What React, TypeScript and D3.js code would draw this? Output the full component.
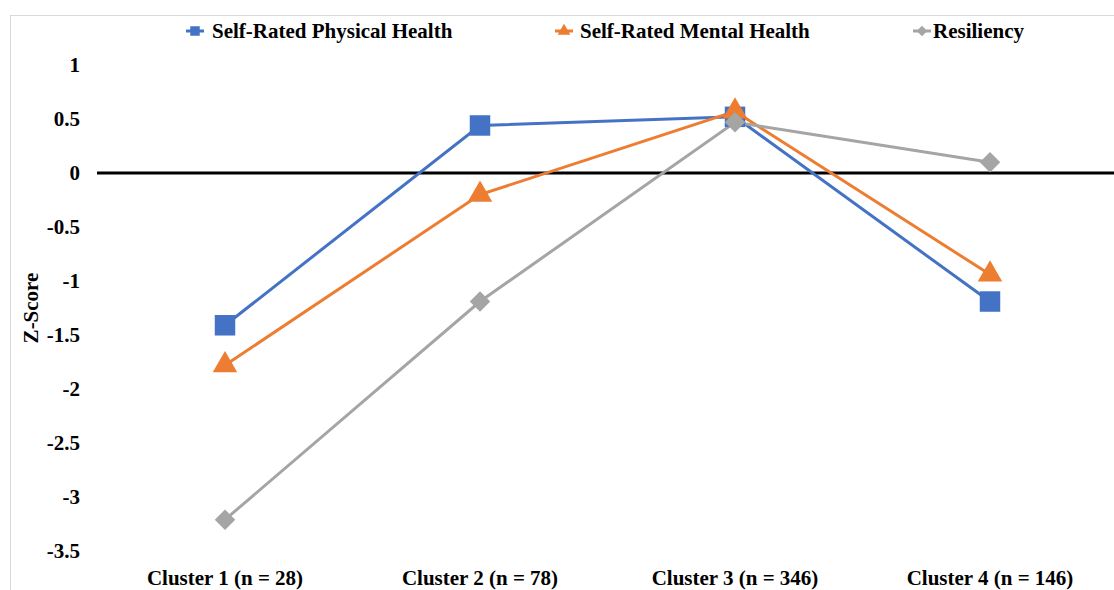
import React, { useEffect, useRef } from 'react';
import * as d3 from 'd3';

const categories = ['Cluster 1 (n = 28)', 'Cluster 2 (n = 78)', 'Cluster 3 (n = 346)', 'Cluster 4 (n = 146)'];
const physical = [-1.41, 0.44, 0.52, -1.19];
const mental = [-1.78, -0.2, 0.57, -0.94];
const resiliency = [-3.21, -1.19, 0.47, 0.1];
const yTicks = [1, 0.5, 0, -0.5, -1, -1.5, -2, -2.5, -3, -3.5];

const seriesList = [
  { name: 'Self-Rated Physical Health', values: physical, color: '#4472C4', shape: 'square', legendX: 186, textX: 212 },
  { name: 'Self-Rated Mental Health', values: mental, color: '#ED7D31', shape: 'triangle', legendX: 555, textX: 580 },
  { name: 'Resiliency', values: resiliency, color: '#A5A5A5', shape: 'diamond', legendX: 913, textX: 933 },
];

const FONT = '"Liberation Serif", "Times New Roman", serif';
const FS = 21;

function markerPath(shape: string, big: boolean) {
  if (shape === 'square') return d3.symbol().type(d3.symbolSquare).size(big ? 420 : 90)();
  if (shape === 'triangle') return d3.symbol().type(d3.symbolTriangle).size(big ? 260 : 70)();
  return d3.symbol().type(d3.symbolSquare).size(big ? 210 : 55)();
}

export default function App() {
  const svgRef = useRef<SVGSVGElement>(null);

  useEffect(() => {
    if (!svgRef.current) return;
    const width = 1114;
    const height = 590;
    const svg = d3.select(svgRef.current);
    svg.selectAll('*').remove();

    // chart frame
    svg.append('rect')
      .attr('x', 10.5).attr('y', 15.5)
      .attr('width', width + 20).attr('height', height + 20)
      .attr('fill', '#fff').attr('stroke', '#D9D9D9').attr('stroke-width', 1);

    const x = d3.scalePoint<string>().domain(categories).range([225, 990]);
    const y = d3.scaleLinear().domain([-3.5, 1]).range([551, 65]);

    // y tick labels
    svg.append('g').selectAll('text')
      .data(yTicks)
      .enter().append('text')
      .attr('x', 80)
      .attr('y', d => y(d))
      .attr('dy', '0.35em')
      .attr('text-anchor', 'end')
      .attr('font-family', FONT)
      .attr('font-weight', 'bold')
      .attr('font-size', FS)
      .text(d => String(d));

    // zero line
    svg.append('line')
      .attr('x1', 97).attr('x2', width)
      .attr('y1', y(0)).attr('y2', y(0))
      .attr('stroke', '#000').attr('stroke-width', 3);

    // category labels
    svg.append('g').selectAll('text')
      .data(categories)
      .enter().append('text')
      .attr('x', d => x(d)!)
      .attr('y', 585)
      .attr('text-anchor', 'middle')
      .attr('font-family', FONT)
      .attr('font-weight', 'bold')
      .attr('font-size', FS)
      .text(d => d);

    // y axis title
    svg.append('text')
      .attr('transform', `translate(38, 308) rotate(-90)`)
      .attr('text-anchor', 'middle')
      .attr('font-family', FONT)
      .attr('font-weight', 'bold')
      .attr('font-size', FS)
      .text('Z-Score');

    const line = d3.line<number>()
      .x((_, i) => x(categories[i])!)
      .y(d => y(d));

    seriesList.forEach(s => {
      svg.append('path')
        .datum(s.values)
        .attr('fill', 'none')
        .attr('stroke', s.color)
        .attr('stroke-width', 3)
        .attr('d', line);
    });

    seriesList.forEach(s => {
      svg.append('g').selectAll('path')
        .data(s.values)
        .enter().append('path')
        .attr('d', markerPath(s.shape, true))
        .attr('transform', (d, i) => `translate(${x(categories[i])}, ${y(d)})${s.shape === 'diamond' ? ' rotate(45)' : ''}`)
        .attr('fill', s.color);
    });

    // legend
    const legend = svg.append('g');
    seriesList.forEach(s => {
      const g = legend.append('g').attr('transform', `translate(${s.legendX}, 31)`);
      g.append('line')
        .attr('x1', 0).attr('x2', 18)
        .attr('stroke', s.color).attr('stroke-width', 3);
      g.append('path')
        .attr('d', markerPath(s.shape, false))
        .attr('transform', `translate(9, 0)${s.shape === 'diamond' ? ' rotate(45)' : ''}`)
        .attr('fill', s.color);
      g.append('text')
        .attr('x', s.textX - s.legendX)
        .attr('dy', '0.35em')
        .attr('font-family', FONT)
        .attr('font-weight', 'bold')
        .attr('font-size', FS)
        .text(s.name);
    });
  }, []);

  return (
    <div style={{ position: 'absolute', left: 0, top: 0, width: 1114, height: 590, overflow: 'hidden', background: '#fff' }}>
      <svg ref={svgRef} width={1114} height={590} style={{ display: 'block' }} />
    </div>
  );
}
